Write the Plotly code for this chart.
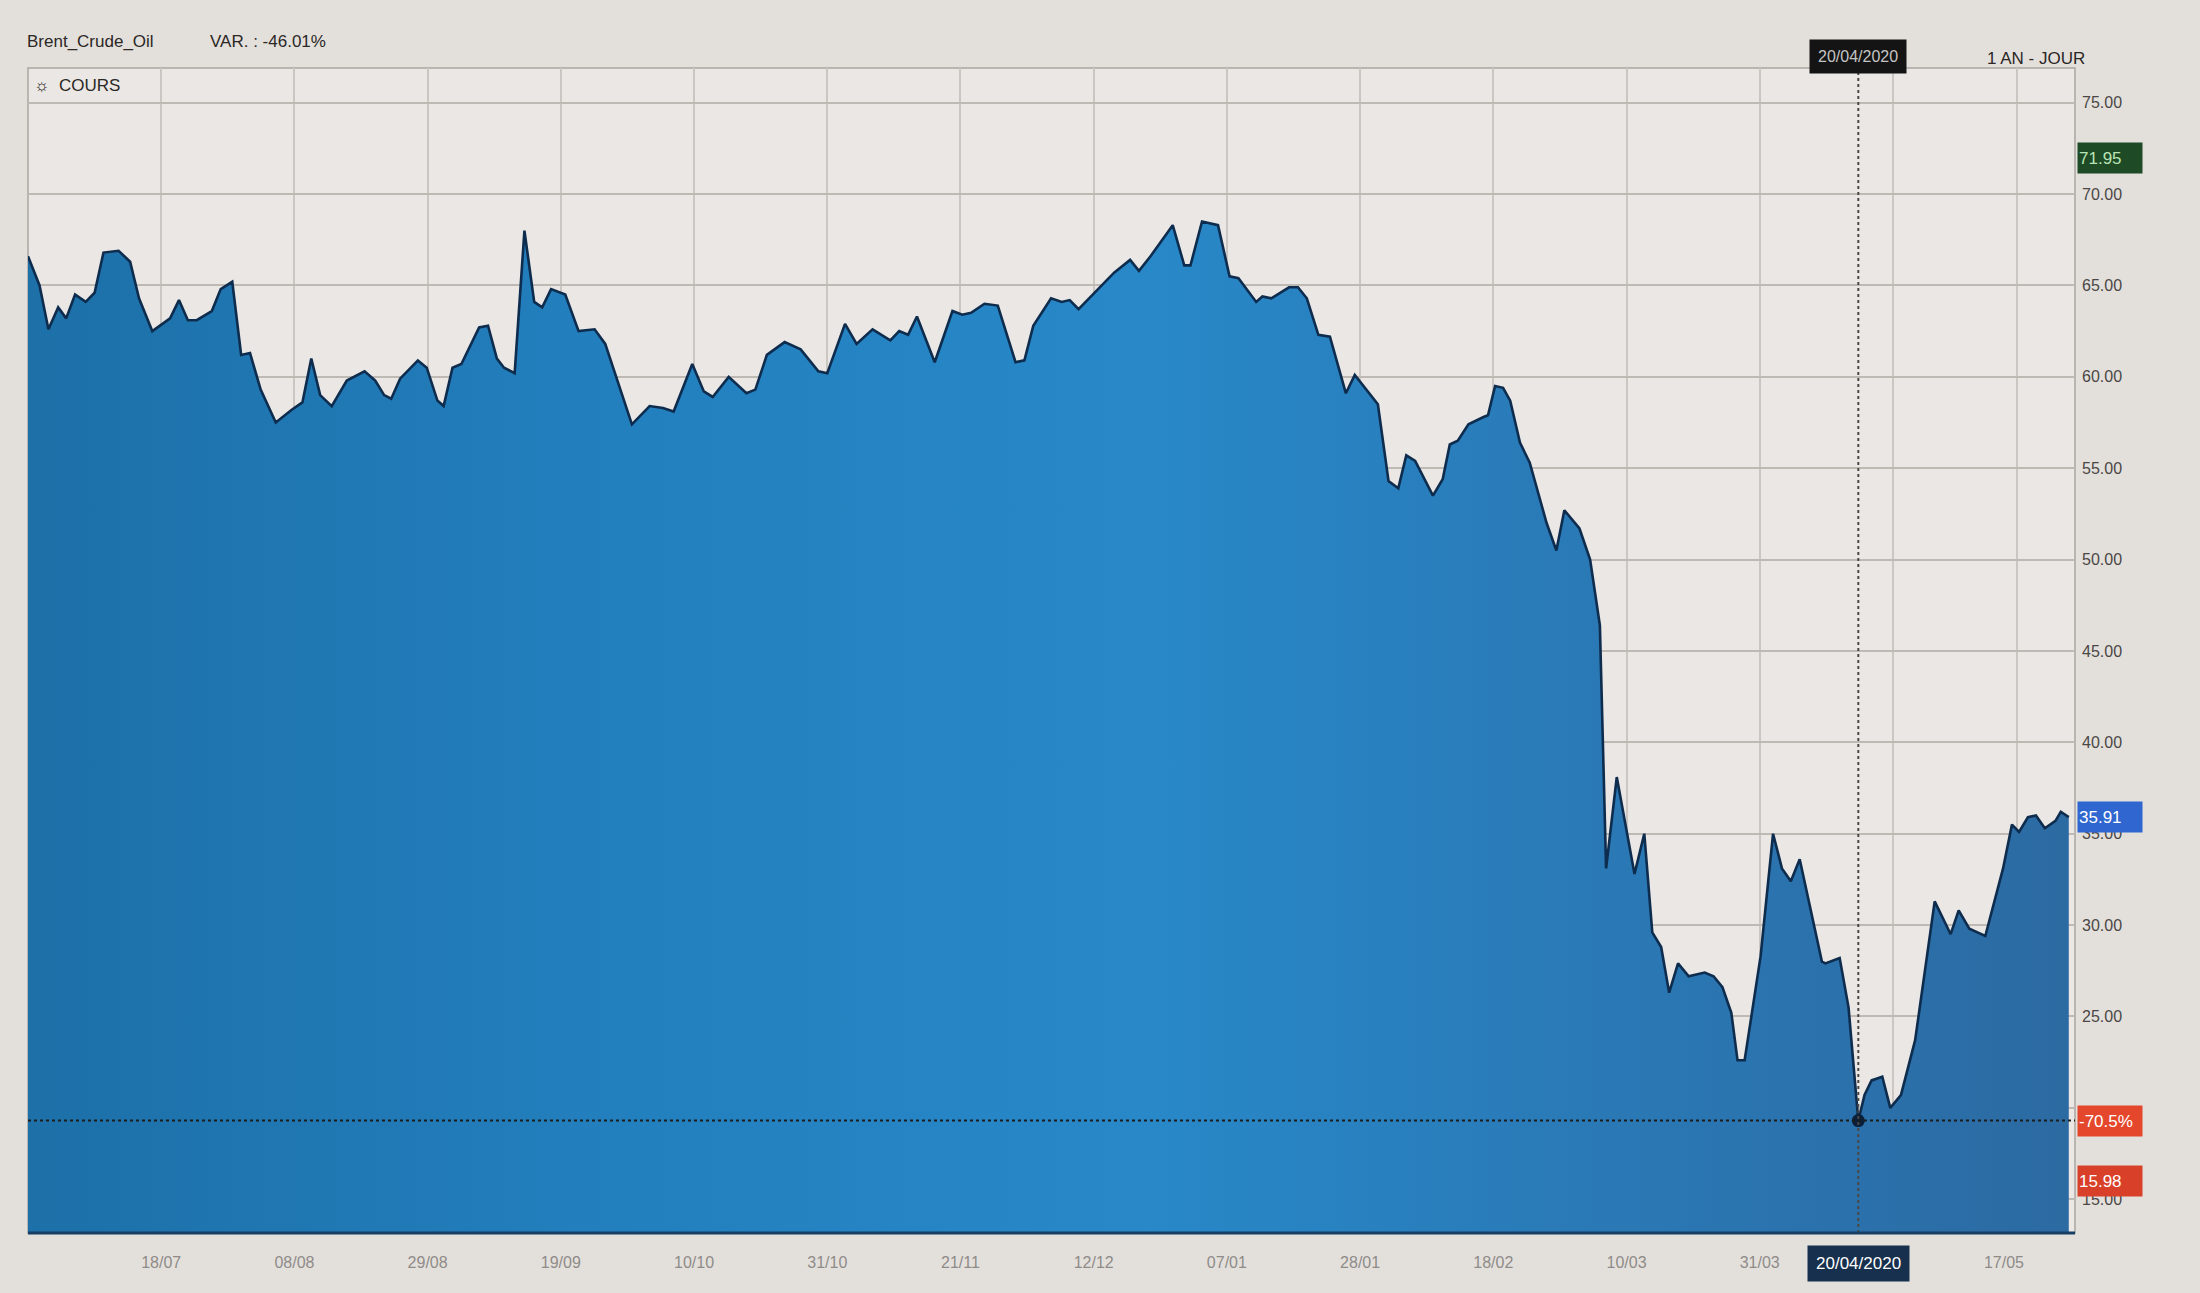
import plotly.graph_objects as go

# ---- data (x = trading-day index along the axis) ----
day_idx = [0, 1.3, 2.3, 3.4, 4.3, 5.3, 6.5, 7.5, 8.5, 10.2, 11.5, 12.5, 14.0, 16.0, 17.0, 18.0,
           19.0, 20.7, 21.7, 23.0, 24.0, 25.0, 26.2, 27.9, 29.7, 30.9, 31.9, 32.9, 34.2, 35.9,
           37.9, 39.1, 40.1, 40.9, 41.9, 43.9, 44.9, 46.1, 46.8, 47.8, 48.8, 50.8, 51.8, 52.8,
           53.6, 54.8, 55.9, 57.0, 57.9, 58.9, 60.5, 62.0, 63.8, 65.0, 68.0, 70.0, 71.5, 72.7,
           74.8, 76.1, 77.1, 78.9, 80.9, 81.9, 83.2, 85.2, 87.0, 89.0, 90.0, 92.0, 93.3, 95.1,
           97.1, 98.1, 99.1, 100.1, 102.1, 104.1, 105.2, 106.2, 107.7, 109.2, 111.2, 112.2,
           113.2, 115.2, 116.4, 117.3, 118.3, 120.3, 122.3, 124.1, 125.1, 126.4, 128.9, 130.2,
           130.9, 132.2, 134.0, 135.3, 136.3, 138.3, 139.0, 140.0, 142.0, 143.0, 144.0, 145.3,
           146.6, 148.4, 149.4, 152.0, 153.2, 154.3, 155.2, 156.2, 158.2, 159.3, 160.1, 161.0,
           162.2, 163.9, 164.4, 165.2, 166.1, 166.9, 168.0, 169.1, 171.0, 172.1, 173.0, 174.7,
           175.9, 177.0, 177.7, 178.9, 180.9, 182.0, 182.9, 183.9, 184.8, 185.8, 187.0, 188.8,
           189.8, 190.8, 191.8, 192.5, 193.3, 195.1, 196.5, 197.5, 198.5, 199.5, 202.0, 202.4,
           204.0, 205.0, 206.1, 206.8, 207.6, 208.8, 209.7, 210.9, 212.5, 214.7, 216.5, 217.4,
           218.6, 220.4, 222.4, 223.4, 224.2, 225.2, 226.1, 227.1, 228.3, 228.9, 229.8]
price = [66.6, 65.0, 62.6, 63.8, 63.2, 64.5, 64.1, 64.6, 66.8, 66.9, 66.3, 64.3, 62.5, 63.2, 64.2, 63.1,
         63.1, 63.6, 64.8, 65.2, 61.2, 61.3, 59.3, 57.5, 58.2, 58.6, 61.0, 59.0, 58.4, 59.8,
         60.3, 59.8, 59.0, 58.8, 59.9, 60.9, 60.5, 58.7, 58.4, 60.5, 60.7, 62.7, 62.8, 61.0,
         60.5, 60.2, 68.0, 64.1, 63.8, 64.8, 64.5, 62.5, 62.6, 61.8, 57.4, 58.4, 58.3, 58.1,
         60.7, 59.2, 58.9, 60.0, 59.1, 59.3, 61.2, 61.9, 61.5, 60.3, 60.2, 62.9, 61.8, 62.6,
         62.0, 62.5, 62.3, 63.3, 60.8, 63.6, 63.4, 63.5, 64.0, 63.9, 60.8, 60.9,
         62.8, 64.3, 64.1, 64.2, 63.7, 64.7, 65.7, 66.4, 65.8, 66.6, 68.3, 66.1,
         66.1, 68.5, 68.3, 65.5, 65.4, 64.1, 64.4, 64.3, 64.9, 64.9, 64.3, 62.3,
         62.2, 59.1, 60.1, 58.5, 54.3, 53.9, 55.7, 55.4, 53.5, 54.4, 56.3, 56.5,
         57.4, 57.8, 57.9, 59.5, 59.4, 58.7, 56.4, 55.3, 52.0, 50.5, 52.7, 51.7,
         50.0, 46.4, 33.1, 38.1, 32.8, 35.0, 29.6, 28.8, 26.3, 27.9, 27.2, 27.4,
         27.2, 26.6, 25.2, 22.6, 22.6, 28.3, 35.0, 33.1, 32.4, 33.6, 28.0, 27.9,
         28.2, 25.5, 19.3, 20.7, 21.5, 21.7, 20.0, 20.7, 23.7, 31.3, 29.5, 30.8,
         29.8, 29.4, 33.1, 35.5, 35.1, 35.9, 36.0, 35.3, 35.7, 36.2, 35.91]

tick_idx = [15, 30, 45, 60, 75, 90, 105, 120, 135, 150, 165, 180, 195, 222.5]
tick_text = ["18/07", "08/08", "29/08", "19/09", "10/10", "31/10", "21/11", "12/12",
             "07/01", "28/01", "18/02", "10/03", "31/03", "17/05"]
grid_idx = [15, 30, 45, 60, 75, 90, 105, 120, 135, 150, 165, 180, 195, 210, 224]
y_ticks = [15, 20, 25, 30, 35, 40, 45, 50, 55, 60, 65, 70, 75]
y_hidden = [20]  # label fully covered by the crosshair value box in the original

cross_idx = 206.1
cross_label = "20/04/2020"
cross_pct = "-70.5%"
max_value = 71.95
min_value = 15.98
last_value = price[-1]
title_name = "Brent_Crude_Oil"
title_var = "VAR. : -46.01%"
period_label = "1 AN - JOUR"

# ---- layout geometry (pixels) ----
WIDTH, HEIGHT = 2200, 1293
L, R, T, B = 28, 2075, 68, 1233
PW, PH = R - L, B - T


def px(xp):
    return (xp - L) / PW


def py(yp):
    return (B - yp) / PH


FONT = "Liberation Sans Narrow, Arial Narrow, Liberation Sans, Arial, sans-serif"

i_cross = day_idx.index(cross_idx)
cross_val = price[i_cross]

fig = go.Figure()
fig.add_trace(go.Scatter(
    x=day_idx, y=price, mode="lines",
    line=dict(color="#0e2c4e", width=2.6),
    fill="tozeroy",
    fillgradient=dict(type="horizontal",
                      colorscale=[[0.0, "#1d70a8"], [0.3, "#2380bf"], [0.55, "#2888c8"],
                                  [0.8, "#2a77b3"], [1.0, "#2c6aa2"]]),
    hoverinfo="skip", showlegend=False,
))
fig.add_trace(go.Scatter(
    x=[day_idx[i_cross]], y=[cross_val], mode="markers",
    marker=dict(color="#0b1f38", size=13), hoverinfo="skip", showlegend=False,
))

shapes = [
    dict(type="line", xref="x", yref="paper", x0=day_idx[i_cross], x1=day_idx[i_cross], y0=0, y1=1,
         line=dict(color="#4a4744", width=2, dash="dot"), layer="above"),
    dict(type="line", xref="paper", yref="y", x0=0, x1=1, y0=cross_val, y1=cross_val,
         line=dict(color="#1c1c1c", width=2, dash="dot"), layer="above"),
    dict(type="rect", xref="paper", yref="paper", x0=0, x1=1, y0=0, y1=1,
         line=dict(color="#aaa5a0", width=1.5), layer="below"),
    dict(type="line", xref="paper", yref="paper", x0=0, x1=1, y0=0, y1=0,
         line=dict(color="#173f66", width=3), layer="above"),
]

TXT = "#2b2725"
annotations = [
    dict(text=title_name, xref="paper", yref="paper", x=px(25), y=py(42), xanchor="left",
         yanchor="middle", showarrow=False, font=dict(family=FONT, size=17, color=TXT)),
    dict(text=title_var, xref="paper", yref="paper", x=px(208), y=py(42), xanchor="left",
         yanchor="middle", showarrow=False, font=dict(family=FONT, size=17, color=TXT)),
    dict(text="☼  COURS", xref="paper", yref="paper", x=px(32), y=py(85), xanchor="left",
         yanchor="middle", showarrow=False, font=dict(family=FONT, size=17, color=TXT)),
    dict(text=period_label, xref="paper", yref="paper", x=px(1985), y=py(58), xanchor="left",
         yanchor="middle", showarrow=False, font=dict(family=FONT, size=17, color=TXT)),
    dict(text=cross_label, xref="x", yref="paper", x=day_idx[i_cross], y=py(57), xanchor="center",
         yanchor="middle", showarrow=False, bgcolor="#141414", borderpad=8,
         font=dict(family=FONT, size=16, color="#c4c4c4")),
    dict(text=cross_label, xref="x", yref="paper", x=day_idx[i_cross], y=py(1263), xanchor="center",
         yanchor="middle", showarrow=False, bgcolor="#16304d", borderpad=8,
         font=dict(family=FONT, size=17, color="#ffffff")),
]

right_boxes = [
    (f"{max_value:.2f}", max_value, "#1e4a26", "#b9e3b5"),
    (f"{last_value:.2f}", last_value, "#2f66d0", "#ffffff"),
    (cross_pct, cross_val, "#e4472c", "#ffffff"),
    (f"{min_value:.2f}", min_value, "#d9402a", "#ffffff"),
]
for txt, val, bg, fc in right_boxes:
    annotations.append(dict(
        text=txt, xref="paper", yref="y", x=1, y=val, xshift=2, xanchor="left", yanchor="middle",
        showarrow=False, bgcolor=bg, width=62, height=28, align="left", borderpad=1,
        font=dict(family=FONT, size=17, color=fc)))

fig.update_layout(
    width=WIDTH, height=HEIGHT,
    margin=dict(l=L, r=WIDTH - R, t=T, b=HEIGHT - B),
    paper_bgcolor="#e3e0dc",
    plot_bgcolor="#eae7e4",
    shapes=shapes,
    annotations=annotations,
    xaxis=dict(
        range=[0, 230.5], tickmode="array", tickvals=tick_idx, ticktext=tick_text,
        showgrid=False, zeroline=False, showline=False, ticks="",
        tickfont=dict(family=FONT, size=16, color="#8f8b88"), ticklabelstandoff=18,
        minor=dict(tickmode="array", tickvals=grid_idx, showgrid=True, gridcolor="#cbc6c1",
                   gridwidth=1.5, ticks=""),
    ),
    yaxis=dict(
        range=[13.15, 76.9], side="right", tickmode="array", tickvals=y_ticks,
        ticktext=["" if v in y_hidden else f"{v:.2f}" for v in y_ticks],
        showgrid=True, gridcolor="#bfb9b4", gridwidth=1.5, zeroline=False, showline=False,
        ticks="", ticklabelstandoff=6,
        tickfont=dict(family=FONT, size=16, color="#4b4745"),
    ),
)

fig.write_html("out.html", config={"displayModeBar": False},
               post_script="document.body.style.margin='0';document.body.style.overflow='hidden';")
